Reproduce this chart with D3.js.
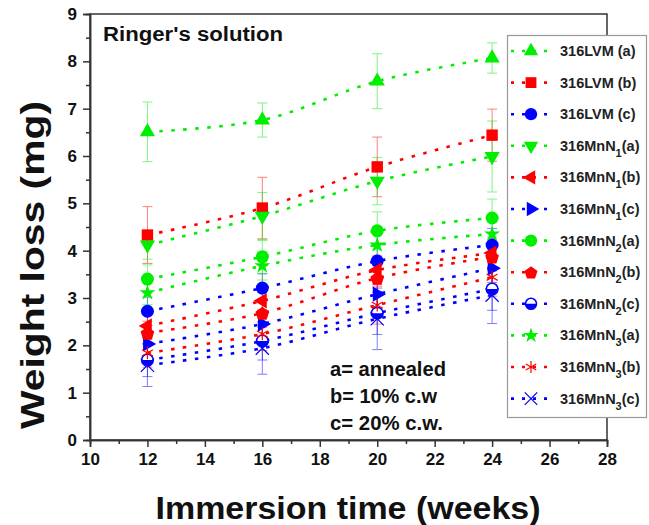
<!DOCTYPE html>
<html><head><meta charset="utf-8">
<script src="https://cdn.jsdelivr.net/npm/d3@7"></script>
<style>body{margin:0;background:#fff}svg{display:block}text{font-family:"Liberation Sans",Arial,sans-serif;font-weight:bold}</style>
</head><body>
<svg id="c" width="649" height="525"></svg>
<script>
// ---- data ----
const weeks = [12, 16, 20, 24];
const xTicks = [10, 12, 14, 16, 18, 20, 22, 24, 26, 28];
const yTicks = [0, 1, 2, 3, 4, 5, 6, 7, 8, 9];

const lvmA   = [6.51, 6.76, 7.58, 8.07];
const lvmB   = [4.33, 4.90, 5.77, 6.44];
const lvmC   = [2.72, 3.21, 3.78, 4.12];
const mn1A   = [4.12, 4.73, 5.47, 5.99];
const mn1B   = [2.41, 2.94, 3.59, 3.95];
const mn1C   = [2.03, 2.45, 3.08, 3.63];
const mn2A   = [3.40, 3.87, 4.42, 4.69];
const mn2B   = [2.26, 2.68, 3.42, 3.87];
const mn2C   = [1.69, 2.09, 2.68, 3.19];
const mn3A   = [3.11, 3.68, 4.12, 4.35];
const mn3B   = [1.84, 2.24, 2.85, 3.44];
const mn3C   = [1.58, 1.94, 2.56, 3.06];

const lvmAErr = [0.63, 0.36, 0.58, 0.32];
const lvmBErr = [0.60, 0.65, 0.63, 0.55];
const lvmCErr = [0.30, 0.30, 0.35, 0.35];
const mn1AErr = [0.30, 0.50, 0.50, 0.75];
const mn1BErr = [0.25, 0.30, 0.30, 0.30];
const mn1CErr = [0.25, 0.30, 0.30, 0.30];
const mn2AErr = [0.30, 0.35, 0.40, 0.40];
const mn2BErr = [0.25, 0.30, 0.30, 0.30];
const mn2CErr = [0.35, 0.40, 0.45, 0.45];
const mn3AErr = [0.25, 0.30, 0.30, 0.30];
const mn3BErr = [0.30, 0.35, 0.40, 0.40];
const mn3CErr = [0.45, 0.55, 0.65, 0.60];

const seriesNames = ["316LVM|(a)","316LVM|(b)","316LVM|(c)","316MnN|1|(a)","316MnN|1|(b)","316MnN|1|(c)",
  "316MnN|2|(a)","316MnN|2|(b)","316MnN|2|(c)","316MnN|3|(a)","316MnN|3|(b)","316MnN|3|(c)"];
const seriesValues = [lvmA,lvmB,lvmC,mn1A,mn1B,mn1C,mn2A,mn2B,mn2C,mn3A,mn3B,mn3C];
const seriesErrors = [lvmAErr,lvmBErr,lvmCErr,mn1AErr,mn1BErr,mn1CErr,mn2AErr,mn2BErr,mn2CErr,mn3AErr,mn3BErr,mn3CErr];
const seriesSymbols = ["triUp","square","circle","triDown","triLeft","triRight","circle","pentagon","half","star","asterisk","times"];

// ---- style ----
const G = "#00ee00", R = "#ff0000", B = "#0000ff";
const seriesColors = [G,R,B,G,R,B,G,R,B,G,R,B];

const svg = d3.select("#c");
const L = 90, Rt = 607, T = 14, Bt = 440;
const x = d3.scaleLinear().domain([10, 28]).range([L, Rt]);
const y = d3.scaleLinear().domain([0, 9]).range([Bt, T]);

// frame
svg.append("rect").attr("x", L).attr("y", T).attr("width", Rt - L).attr("height", Bt - T)
  .attr("fill", "none").attr("stroke", "#333").attr("stroke-width", 1.5);

// axes
const xAx = svg.append("g").attr("transform", `translate(0,${Bt})`)
  .call(d3.axisBottom(x).tickValues(xTicks).tickSize(7).tickPadding(5).tickFormat(d3.format("d")));
const xAxMinor = svg.append("g").attr("transform", `translate(0,${Bt})`)
  .call(d3.axisBottom(x).tickValues(d3.range(11, 28, 2)).tickSize(4).tickFormat(""));
const yAx = svg.append("g").attr("transform", `translate(${L},0)`)
  .call(d3.axisLeft(y).tickValues(yTicks).tickSize(7).tickPadding(6).tickFormat(d3.format("d")));
const yAxMinor = svg.append("g").attr("transform", `translate(${L},0)`)
  .call(d3.axisLeft(y).tickValues(d3.range(0.5, 9, 1)).tickSize(4).tickFormat(""));
[xAx, xAxMinor, yAx, yAxMinor].forEach(a => {
  a.select(".domain").attr("stroke", "#333").attr("stroke-width", 1.5);
  a.selectAll(".tick line").attr("stroke", "#333").attr("stroke-width", 1.5);
  a.selectAll("text").attr("font-size", 17).attr("fill", "#111")
    .style("font-family", '"Liberation Sans",Arial,sans-serif').style("font-weight", "bold");
});
xAx.selectAll("text").attr("dy", "0.75em");

// axis titles
svg.append("text").attr("x", 348).attr("y", 519).attr("text-anchor", "middle")
  .attr("font-size", 31).attr("fill", "#111")
  .attr("textLength", 385).attr("lengthAdjust", "spacingAndGlyphs").text("Immersion time (weeks)");
svg.append("text").attr("transform", "translate(44,265) rotate(-90)").attr("text-anchor", "middle")
  .attr("font-size", 33).attr("fill", "#111")
  .attr("textLength", 328).attr("lengthAdjust", "spacingAndGlyphs").text("Weight loss (mg)");

// annotations
svg.append("text").attr("x", 103).attr("y", 41).attr("font-size", 20).attr("fill", "#111")
  .attr("textLength", 180).attr("lengthAdjust", "spacingAndGlyphs").text("Ringer's solution");
const notes = ["a= annealed", "b= 10% c.w", "c= 20% c.w."];
const noteLen = [116, 107, 113];
notes.forEach((t, i) => {
  svg.append("text").attr("x", 330).attr("y", 376 + i * 27).attr("font-size", 19.5).attr("fill", "#111")
    .attr("textLength", noteLen[i]).attr("lengthAdjust", "spacingAndGlyphs").text(t);
});

// symbol drawing
function drawSymbol(g, type, color, s) {
  const sz = s || 1;
  switch (type) {
    case "triUp": case "triDown": case "triLeft": case "triRight": {
      const rot = {triUp: 0, triDown: 180, triLeft: -90, triRight: 90}[type];
      g.append("path").attr("d", d3.symbol(d3.symbolTriangle, 100 * sz)())
        .attr("transform", `rotate(${rot})`).attr("fill", color);
      break;
    }
    case "square":
      g.append("path").attr("d", d3.symbol(d3.symbolSquare, 130 * sz)()).attr("fill", color); break;
    case "circle":
      g.append("circle").attr("r", 6.5 * Math.sqrt(sz)).attr("fill", color); break;
    case "star":
      g.append("path").attr("d", d3.symbol(d3.symbolStar, 80 * sz)()).attr("fill", color); break;
    case "pentagon": {
      const r = 7.2 * Math.sqrt(sz);
      const pts = d3.range(5).map(i => {
        const a = -Math.PI / 2 + i * 2 * Math.PI / 5;
        return [r * Math.cos(a), r * Math.sin(a) + 0.8];
      });
      g.append("path").attr("d", "M" + pts.join("L") + "Z").attr("fill", color);
      break;
    }
    case "half": {
      const r = 5.8 * Math.sqrt(sz);
      g.append("circle").attr("r", r).attr("fill", "#fff").attr("stroke", color).attr("stroke-width", 1.6);
      g.append("path").attr("d", `M${-r},0A${r},${r} 0 0 0 ${r},0Z`).attr("fill", color);
      break;
    }
    case "asterisk":
      g.append("path").attr("d", d3.symbol(d3.symbolAsterisk, 115 * sz)())
        .attr("fill", "none").attr("stroke", color).attr("stroke-width", 1.2);
      break;
    case "times":
      g.append("path").attr("d", d3.symbol(d3.symbolTimes, 115 * sz)())
        .attr("fill", "none").attr("stroke", color).attr("stroke-width", 1.2);
      break;
  }
}

const line = d3.line().x((d, i) => x(weeks[i])).y(d => y(d)).curve(d3.curveCatmullRom.alpha(0.5));

// lines
seriesValues.forEach((vals, k) => {
  svg.append("path").datum(vals).attr("d", line).attr("fill", "none")
    .attr("stroke", seriesColors[k]).attr("stroke-width", 2.6)
    .attr("stroke-dasharray", "3.5,8.5").attr("stroke-linecap", "butt");
});
// error bars
seriesValues.forEach((vals, k) => {
  const g = svg.append("g").attr("stroke", seriesColors[k]).attr("stroke-width", 1).attr("opacity", 0.5);
  vals.forEach((v, i) => {
    const cx = x(weeks[i]), e = seriesErrors[k][i];
    g.append("line").attr("x1", cx).attr("x2", cx).attr("y1", y(v - e)).attr("y2", y(v + e));
    [v - e, v + e].forEach(w => g.append("line").attr("x1", cx - 5).attr("x2", cx + 5).attr("y1", y(w)).attr("y2", y(w)));
  });
});
// markers
seriesValues.forEach((vals, k) => {
  vals.forEach((v, i) => {
    const g = svg.append("g").attr("transform", `translate(${x(weeks[i])},${y(v)})`);
    drawSymbol(g, seriesSymbols[k], seriesColors[k]);
  });
});

// legend
const lg = svg.append("g");
lg.append("rect").attr("x", 507.5).attr("y", 35.5).attr("width", 139).attr("height", 382)
  .attr("fill", "#fff").attr("stroke", "#999").attr("stroke-width", 1.2);
seriesNames.forEach((nm, k) => {
  const yy = 51 + k * 31.6;
  lg.append("line").attr("x1", 511).attr("x2", 553).attr("y1", yy).attr("y2", yy)
    .attr("stroke", seriesColors[k]).attr("stroke-width", 2.6).attr("stroke-dasharray", "3,8");
  const g = lg.append("g").attr("transform", `translate(531,${yy})`);
  drawSymbol(g, seriesSymbols[k], seriesColors[k], 0.9);
  const parts = nm.split("|");
  const t = lg.append("text").attr("x", 560).attr("y", yy + 5).attr("font-size", 14.5).attr("fill", "#222");
  t.append("tspan").text(parts[0] + (parts.length === 2 ? " " + parts[1] : ""));
  if (parts.length === 3) {
    t.append("tspan").attr("dy", 6).attr("font-size", 11).text(parts[1]);
    t.append("tspan").attr("dy", -6).text(parts[2]);
  }
});
</script>
</body></html>
